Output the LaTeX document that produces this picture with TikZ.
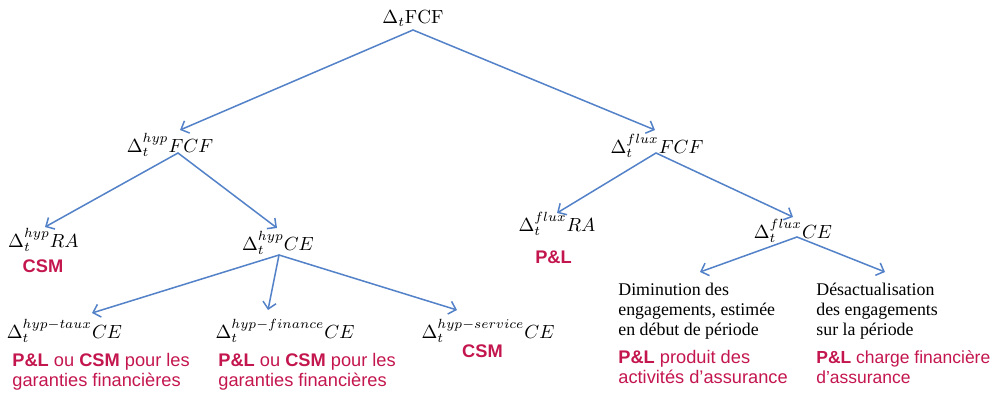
\documentclass[tikz,border=0pt]{standalone}
\usepackage{fontspec}
\newfontfamily\redfont{Liberation Sans}
\newfontfamily\serfont{Liberation Serif}
\usetikzlibrary{arrows.meta,calc}
\definecolor{arrowblue}{RGB}{84,130,200}
\definecolor{plred}{RGB}{196,22,78}
\tikzset{
  lnk/.style={draw=arrowblue, line width=0.8pt, line cap=round,
    -{Straight Barb[length=3.5pt,width=7pt]}},
  term/.style={inner sep=0pt, anchor=base},
  redlbl/.style={inner sep=0pt, text=plred, font=\redfont\fontsize{9.6}{10.5}\selectfont},
  redbox/.style={redlbl, anchor=north west, align=left},
  serbox/.style={inner sep=0pt, anchor=north west, align=left,
    font=\serfont\fontsize{9.4}{10.5}\selectfont},
}
\begin{document}
\begin{tikzpicture}[x=0.5263pt, y=-0.5263pt]
\useasboundingbox (0,0) rectangle (995,394);

% variation tree
\node[term] (root) at (413,24) {$\Delta_t\mathrm{FCF}$};
\node[term] (hfcf) at (170,152) {$\Delta_t^{hyp}FCF$};
\node[term] (ffcf) at (657,153) {$\Delta_t^{flux}FCF$};
\node[term] (hra)  at (43.5,247) {$\Delta_t^{hyp}RA$};
\node[term] (hce)  at (278,250) {$\Delta_t^{hyp}CE$};
\node[term] (fra)  at (557,231) {$\Delta_t^{flux}RA$};
\node[term] (fce)  at (793,238) {$\Delta_t^{flux}CE$};
\node[term] (taux) at (64.5,338) {$\Delta_t^{hyp-taux}CE$};
\node[term] (fin)  at (285,338) {$\Delta_t^{hyp-finance}CE$};
\node[term] (serv) at (488,338) {$\Delta_t^{hyp-service}CE$};

% accounting destinations
\node[redlbl, anchor=base] (hcsm) at (43,272) {\textbf{CSM}};
\node[redlbl, anchor=base] (fpl)  at (553.5,263) {\textbf{P\&L}};
\node[redlbl, anchor=base] (scsm) at (482.5,357) {\textbf{CSM}};
\node[redbox] (tauxpl) at (12,353) {\textbf{P\&L} ou \textbf{CSM} pour les\\garanties financières};
\node[redbox] (finpl)  at (218,353) {\textbf{P\&L} ou \textbf{CSM} pour les\\garanties financières};

% flux components
\node[serbox] (dim) at (618,283) {Diminution des\\engagements, estimée\\en début de période};
\node[serbox] (des) at (816,283) {Désactualisation\\des engagements\\sur la période};
\node[redbox] (dimpl) at (618,350) {\textbf{P\&L} produit des\\activités d’assurance};
\node[redbox, font=\redfont\fontsize{9.2}{10.5}\selectfont] (despl) at (816,350) {\textbf{P\&L} charge financière\\d’assurance};

% connectors
\draw[lnk] ($(root.base)+(0,6)$) -- ($(hfcf.base)+(10,-22)$);
\draw[lnk] ($(root.base)+(0,6)$) -- ($(ffcf.base)+(-2,-23)$);
\draw[lnk] ($(hfcf.base)+(8,1)$) -- ($(hra.base)+(1.5,-20)$);
\draw[lnk] ($(hfcf.base)+(8,1)$) -- ($(hce.base)+(-1,-22)$);
\draw[lnk] ($(ffcf.base)+(-1,0)$) -- ($(fra.base)+(0,-18)$);
\draw[lnk] ($(ffcf.base)+(-1,0)$) -- ($(fce.base)+(0,-21)$);
\draw[lnk] ($(hce.base)+(1,5)$) -- ($(taux.base)+(27.5,-25)$);
\draw[lnk] ($(hce.base)+(1,5)$) -- ($(fin.base)+(-17,-28)$);
\draw[lnk] ($(hce.base)+(1,5)$) -- ($(serv.base)+(-31,-28)$);
\draw[lnk] ($(fce.base)+(4,-1)$) -- ($(dim.north west)+(82,-11)$);
\draw[lnk] ($(fce.base)+(4,-1)$) -- ($(des.north west)+(69,-11)$);
\end{tikzpicture}
\end{document}
